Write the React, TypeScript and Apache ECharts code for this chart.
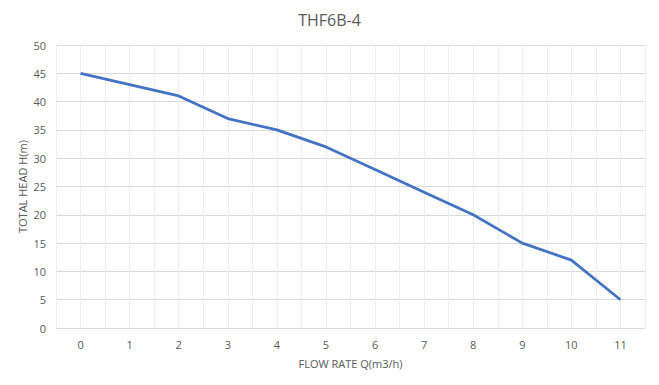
import React, { useEffect, useRef } from "react";
import * as echarts from "echarts";

const flowRates = [0, 1, 2, 3, 4, 5, 6, 7, 8, 9, 10, 11];
const totalHead = [45, 43, 41, 37, 35, 32, 28, 24, 20, 15, 12, 5];
const chartTitle = "THF6B-4";
const xAxisTitle = "FLOW RATE Q(m3/h)";
const yAxisTitle = "TOTAL HEAD H(m)";

export default function App() {
  const ref = useRef<HTMLDivElement>(null);
  useEffect(() => {
    if (!ref.current) return;
    const chart = echarts.init(ref.current, null, { renderer: "svg" });
    const font = "'Open Sans', 'Liberation Sans', sans-serif";
    chart.setOption({
      animation: false,
      backgroundColor: "#ffffff",
      textStyle: { fontFamily: font },
      title: {
        text: chartTitle,
        left: "center",
        top: 7,
        textStyle: {
          fontSize: 16,
          fontWeight: "normal",
          color: "#595959",
          fontFamily: "'Liberation Sans Narrow', 'Open Sans', sans-serif",
        },
      },
      grid: { left: 56, right: 14, top: 45, bottom: 57 },
      xAxis: {
        type: "value",
        min: -0.5,
        max: 11.5,
        interval: 0.5,
        name: xAxisTitle,
        nameLocation: "middle",
        nameGap: 30,
        nameTextStyle: { fontSize: 11, color: "#595959", fontFamily: font },
        axisLine: { show: true, lineStyle: { color: "#d9d9d9", width: 1 } },
        axisTick: { show: false },
        axisLabel: {
          fontSize: 11,
          color: "#595959",
          margin: 11,
          showMinLabel: false,
          showMaxLabel: false,
          formatter: (v: number) => (Number.isInteger(v) && flowRates.includes(v) ? String(v) : ""),
        },
        splitLine: { show: true, lineStyle: { color: "#ececec", width: 1 } },
      },
      yAxis: {
        type: "value",
        min: 0,
        max: 50,
        interval: 5,
        name: yAxisTitle,
        nameLocation: "middle",
        nameGap: 28,
        nameMoveOverlap: false,
        nameRotate: 90,
        nameTextStyle: { fontSize: 11, color: "#595959", fontFamily: font },
        axisLine: { show: false },
        axisTick: { show: false },
        axisLabel: { fontSize: 11, color: "#595959", margin: 10 },
        splitLine: { show: true, lineStyle: { color: "#d9d9d9", width: 1 } },
      },
      series: [
        {
          type: "line",
          data: flowRates.map((q, i) => [q, totalHead[i]]),
          showSymbol: false,
          lineStyle: { color: "#4472c4", width: 2.75 },
          itemStyle: { color: "#4472c4" },
        },
      ],
    });
    return () => chart.dispose();
  }, []);
  return (
    <div
      ref={ref}
      style={{ position: "fixed", left: 0, top: 0, width: 659, height: 385 }}
    />
  );
}
